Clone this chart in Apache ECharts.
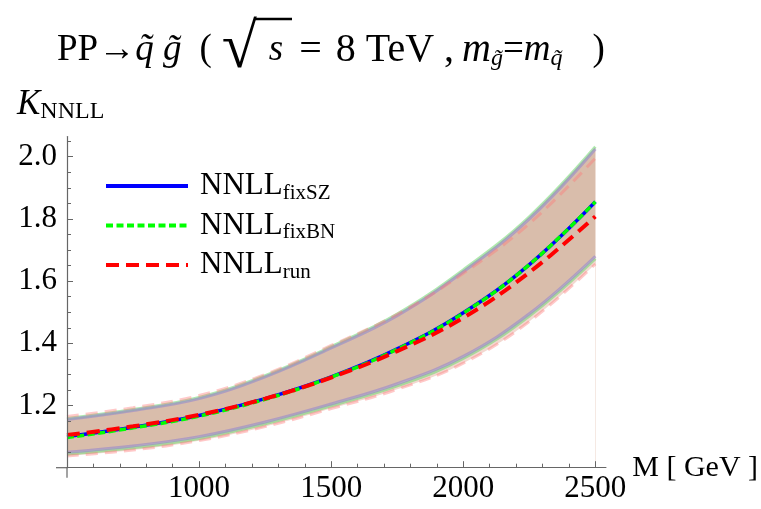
<!DOCTYPE html>
<html><head><meta charset="utf-8">
<script src="https://cdn.jsdelivr.net/npm/echarts@6/dist/echarts.min.js"></script>
<style>html,body{margin:0;padding:0;background:#fff}#c{width:761px;height:509px}</style>
</head><body><div id="c"></div>
<script>
// ---- data ----
const masses      = [500, 750, 1000, 1250, 1500, 1750, 2000, 2250, 2500];
const fixSZ       = [1.100, 1.130, 1.168, 1.222, 1.292, 1.382, 1.498, 1.653, 1.855];
const fixBN       = [1.097, 1.128, 1.166, 1.220, 1.291, 1.381, 1.497, 1.653, 1.855];
const run         = [1.105, 1.133, 1.170, 1.222, 1.290, 1.375, 1.482, 1.628, 1.808];
const fixSZUpper  = [1.155, 1.184, 1.222, 1.292, 1.385, 1.489, 1.630, 1.800, 2.025];
const fixSZLower  = [1.050, 1.070, 1.100, 1.147, 1.205, 1.270, 1.358, 1.495, 1.680];
const fixBNUpper  = [1.158, 1.187, 1.226, 1.296, 1.389, 1.494, 1.636, 1.807, 2.032];
const fixBNLower  = [1.044, 1.064, 1.094, 1.141, 1.199, 1.263, 1.351, 1.488, 1.672];
const runUpper    = [1.165, 1.193, 1.232, 1.300, 1.393, 1.493, 1.625, 1.785, 1.995];
const runLower    = [1.038, 1.057, 1.087, 1.132, 1.190, 1.252, 1.336, 1.470, 1.655];
const xTicks      = [1000, 1500, 2000, 2500];
const xMinorTicks = [600, 700, 800, 900, 1100, 1200, 1300, 1400, 1600, 1700, 1800, 1900, 2100, 2200, 2300, 2400];
const yTicks      = [1.2, 1.4, 1.6, 1.8, 2.0];
const yMinorTicks = [1.05, 1.1, 1.15, 1.25, 1.3, 1.35, 1.45, 1.5, 1.55, 1.65, 1.7, 1.75, 1.85, 1.9, 1.95, 2.05];
const seriesNames = ['NNLL_fixSZ', 'NNLL_fixBN', 'NNLL_run'];

const serif = 'Liberation Serif';
const chart = echarts.init(document.getElementById('c'));
const pairs = ys => masses.map((m, i) => [m, ys[i]]);
const base = {type: 'line', symbol: 'none', smooth: 0.4, silent: true, xAxisIndex: 0, yAxisIndex: 0, z: 2};
const axisGray = '#666';
const fill = (ys, color) => Object.assign({}, base, {data: pairs(ys), lineStyle: {opacity: 0},
  areaStyle: {color: color, opacity: 1, origin: 'start'}});
const edge = (ys, color, type) => Object.assign({}, base, {data: pairs(ys), lineStyle: {color: color, width: 3, type: type || 'solid'}});

const series = [
  fill(fixBNUpper, '#f2d8d0'),
  fill(fixSZUpper, '#d9bdab'),
  fill(fixSZLower, '#f2d8d0'),
  fill(runLower, '#ffffff'),
  edge(fixBNUpper, 'rgba(110,215,110,0.55)'),
  edge(fixBNLower, 'rgba(110,215,110,0.55)'),
  edge(fixSZUpper, 'rgba(150,135,205,0.6)'),
  edge(fixSZLower, 'rgba(150,135,205,0.6)'),
  edge(runUpper, 'rgba(255,120,120,0.4)', [12, 7]),
  edge(runLower, 'rgba(255,120,120,0.4)', [12, 7]),
  Object.assign({}, base, {name: seriesNames[0], data: pairs(fixSZ), color: '#0000ff', lineStyle: {color: '#0000ff', width: 3.5}}),
  Object.assign({}, base, {name: seriesNames[1], data: pairs(fixBN), color: '#00ff00', lineStyle: {color: '#00ff00', width: 3.5, type: [7, 3.5]}}),
  Object.assign({}, base, {name: seriesNames[2], data: pairs(run), color: '#ff0000', lineStyle: {color: '#ff0000', width: 4, type: [13, 7]}})
];

const grid = {left: 67, right: 151.3, top: 136.5, bottom: 41.3, containLabel: false};
const yRange = {min: 1.0, max: 2.065};
const xRange = {min: 500, max: 2540};

chart.setOption({
  animation: false,
  backgroundColor: '#fff',
  grid: grid,
  legend: {
    data: seriesNames,
    orient: 'vertical',
    left: 104, top: 168.5, padding: 0,
    itemWidth: 82, itemHeight: 14, itemGap: 4.5,
    itemStyle: {color: 'transparent', borderColor: 'transparent', borderWidth: 0, opacity: 0},
    lineStyle: {width: 4},
    formatter: name => '{a|NNLL}{b|' + name.split('_')[1] + '}',
    textStyle: {
      padding: [0, 0, 0, 7],
      rich: {
        a: {fontFamily: serif, fontSize: 31, color: '#000', lineHeight: 31},
        b: {fontFamily: serif, fontSize: 21, color: '#000', padding: [14, 0, 0, 0], lineHeight: 17}
      }
    }
  },
  xAxis: [
    Object.assign({type: 'value', position: 'bottom', z: 10}, xRange, {
      name: 'M [ GeV ]', nameLocation: 'end', nameGap: 16,
      nameTextStyle: {fontFamily: serif, fontSize: 30, color: '#000', align: 'left', verticalAlign: 'middle', padding: [18, 0, 0, 0]},
      axisLine: {show: true, lineStyle: {color: axisGray, width: 1.2}},
      axisTick: {show: true, inside: true, length: 6.5, customValues: xTicks, lineStyle: {color: axisGray}},
      axisLabel: {show: true, customValues: xTicks, fontFamily: serif, fontSize: 31, color: '#000', margin: 6,
                  formatter: v => String(v)},
      splitLine: {show: false}
    }),
    Object.assign({type: 'value', position: 'bottom', z: 10}, xRange, {
      axisLine: {show: false},
      axisTick: {show: true, inside: true, length: 4, customValues: xMinorTicks, lineStyle: {color: axisGray}},
      axisLabel: {show: false},
      splitLine: {show: false}
    })
  ],
  yAxis: [
    Object.assign({type: 'value', position: 'left', z: 10}, yRange, {
      axisLine: {show: true, lineStyle: {color: axisGray, width: 1.2}},
      axisTick: {show: true, inside: true, length: 6, customValues: yTicks, lineStyle: {color: axisGray}},
      axisLabel: {show: true, customValues: yTicks, fontFamily: serif, fontSize: 31, color: '#000', margin: 10,
                  formatter: v => Number(v).toFixed(1)},
      splitLine: {show: false}
    }),
    Object.assign({type: 'value', position: 'left', z: 10}, yRange, {
      axisLine: {show: false},
      axisTick: {show: true, inside: true, length: 4, customValues: yMinorTicks, lineStyle: {color: axisGray}},
      axisLabel: {show: false},
      splitLine: {show: false}
    })
  ],
  series: series
});

const tN = (pl, fs) => ({fontFamily: serif, fontSize: fs || 37, fill: '#000', lineHeight: 46, padding: [0, 0, 0, pl]});
const tI = (pl, fs) => ({fontFamily: serif, fontSize: fs || 37, fontStyle: 'italic', fill: '#000', lineHeight: 46, padding: [0, 0, 0, pl]});

// axis overhangs (axes cross and extend slightly past each other)
const origin = chart.convertToPixel({xAxisIndex: 0, yAxisIndex: 0}, [xRange.min, yRange.min]);
chart.setOption({
  graphic: [
    {type: 'line', z: 20, shape: {x1: origin[0] - 11, y1: origin[1], x2: origin[0], y2: origin[1]}, style: {stroke: axisGray, lineWidth: 1.2}},
    {type: 'line', z: 20, shape: {x1: origin[0], y1: origin[1], x2: origin[0], y2: origin[1] + 10}, style: {stroke: axisGray, lineWidth: 1.2}},
    {type: 'text', x: 57, y: 50, style: {
      text: '{a|PP→}{b|q̃ g̃}{c|(}{d|√}{e|s}{f|=}{g|8}{h|TeV ,}{j|m}{sb|g̃}{n|=}{i|m}{sb|q̃}{k|)}',
      align: 'left', verticalAlign: 'middle',
      rich: {
        a: tN(0), b: tI(0), c: tN(18),
        d: {fontFamily: serif, fontSize: 64, fill: '#000', lineHeight: 46, padding: [0, 0, 0, 10]},
        e: tI(12), f: tN(16, 40), g: tN(14, 40), h: tN(10, 40), j: tI(8, 40), n: tN(0), i: tI(0), k: tN(30),
        sb: {fontFamily: serif, fontSize: 24, fontStyle: 'italic', fill: '#000', padding: [18, 0, 0, 0], lineHeight: 46}
      }
    }},
    {type: 'line', shape: {x1: 255, y1: 19, x2: 292, y2: 19}, style: {stroke: '#000', lineWidth: 2.5}},
    {type: 'text', left: 17, top: 86, style: {
      text: '{k|K}{s|NNLL}',
      rich: {
        k: {fontFamily: serif, fontSize: 35, fontStyle: 'italic', fill: '#000', lineHeight: 40},
        s: {fontFamily: serif, fontSize: 24, fill: '#000', padding: [14, 0, 0, 0], lineHeight: 40}
      }
    }}
  ]
});
</script></body></html>
